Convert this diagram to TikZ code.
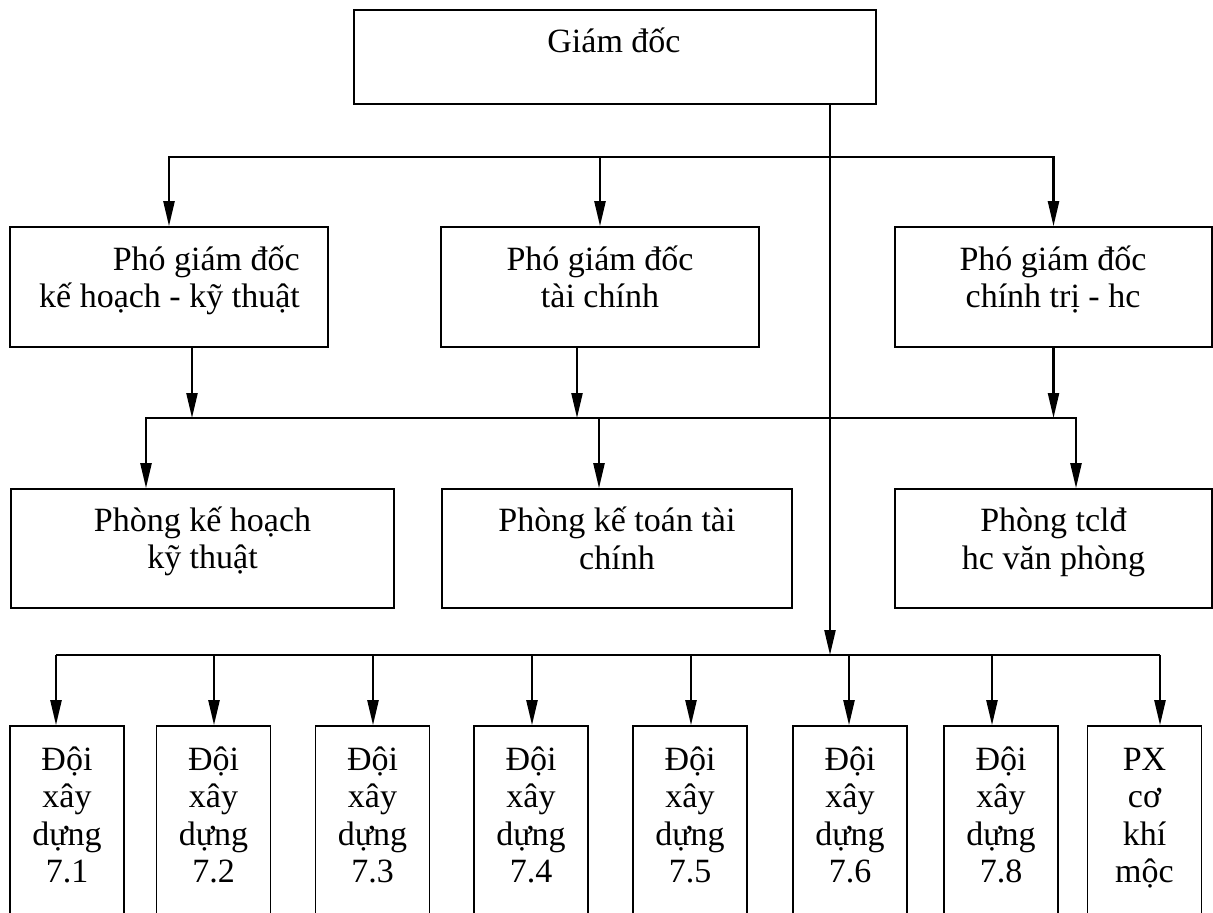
\documentclass[tikz,border=0pt]{standalone}
\usepackage{fontspec}
\setmainfont{Liberation Serif}
\usetikzlibrary{arrows.meta}
\begin{document}
\begin{tikzpicture}[x=1pt,y=-1pt,
  box/.style={draw,line width=1.6pt,rectangle,inner sep=0pt},
  wbox/.style={box,minimum width=318pt,minimum height=120pt},
  tbox/.style={box,minimum width=114pt,minimum height=234pt},
  % multi-line labels are placed by the baseline of their last line
  lbl/.style={font=\fontsize{34}{37.5}\selectfont,align=center,anchor=base,inner sep=0pt},
  conn/.style={line width=2.3pt},
  arr/.style={conn,-{Triangle[length=25pt,width=11pt]}},
]
\useasboundingbox (0,0) rectangle (1213,913);
\clip (0,0) rectangle (1213,913);

% director
\node[box,minimum width=522pt,minimum height=94pt] (gd) at (615,57) {};
\node[lbl] (gdt) at (614,52) {Giám đốc};

% deputy directors
\node[wbox] (pkh) at (169,287) {};
\node[wbox] (ptc) at (600,287) {};
\node[wbox,minimum width=317pt] (pct) at (1053.5,287) {};
\node[lbl,align=right] (pkht) at (169.5,307.5) {Phó giám đốc\\kế hoạch - kỹ thuật};
\node[lbl] (ptct) at (600,307.5) {Phó giám đốc\\tài chính};
\node[lbl] (pctt) at (1053,307.5) {Phó giám đốc\\chính trị - hc};

% departments
\node[box,minimum width=383pt,minimum height=119pt] (rkh) at (202.5,548.5) {};
\node[box,minimum width=350pt,minimum height=119pt] (rkt) at (617,548.5) {};
\node[box,minimum width=317pt,minimum height=119pt] (rtc) at (1053.5,548.5) {};
\node[lbl] (rkht) at (202.5,568.5) {Phòng kế hoạch\\kỹ thuật};
\node[lbl] (rktt) at (617,569) {Phòng kế toán tài\\chính};
\node[lbl] (rtct) at (1053.5,569) {Phòng tclđ\\hc văn phòng};

% construction teams and workshop
\foreach \n/\x/\t in {d1/67/{Đội\\xây\\dựng\\7.1},
                      d2/213.5/{Đội\\xây\\dựng\\7.2},
                      d3/372.5/{Đội\\xây\\dựng\\7.3},
                      d4/531/{Đội\\xây\\dựng\\7.4},
                      d5/690/{Đội\\xây\\dựng\\7.5},
                      d6/850/{Đội\\xây\\dựng\\7.6},
                      d7/1001/{Đội\\xây\\dựng\\7.8},
                      d8/1144.5/{PX\\cơ\\khí\\mộc}} {
  \node[tbox] (\n) at (\x,843) {};
  \node[lbl] (\n t) at (\x,882.5) {\t};
}

% bus levels
\coordinate (busA) at (0,157);
\coordinate (busB) at (0,418);
\coordinate (busC) at (0,655);
\coordinate (trunkEnd) at (830,655);

% director trunk
\draw[arr] (gd.south -| trunkEnd) -- (trunkEnd);

% director to deputies
\draw[arr] (ptc.north |- busA) -| (pkh.north);
\draw[arr] (ptc.north |- busA) -| (pct.north);
\draw[arr] (ptc.north |- busA) -- (ptc.north);

% deputies to department bus
\draw[arr] ([xshift=23pt]pkh.south) -- ([xshift=23pt]pkh.south |- busB);
\draw[arr] ([xshift=-23pt]ptc.south) -- ([xshift=-23pt]ptc.south |- busB);
\draw[arr] (pct.south) -- (pct.south |- busB);

% department bus to departments
\draw[arr] ([xshift=-18pt]rkt.north |- busB) -| ([xshift=-56.5pt]rkh.north);
\draw[arr] ([xshift=-18pt]rkt.north |- busB) -| ([xshift=22.5pt]rtc.north);
\draw[arr] ([xshift=-18pt]rkt.north |- busB) -- ([xshift=-18pt]rkt.north);

% team bus
\draw[conn] ([xshift=-11pt]d1.north |- busC) -- ([xshift=15.5pt]d8.north |- busC);
\foreach \n/\s in {d1/-11,d2/0.5,d3/0.5,d4/1,d5/1,d6/-1,d7/-9,d8/15.5} {
  \draw[arr] ([xshift=\s pt]\n.north |- busC) -- ([xshift=\s pt]\n.north);
}
\end{tikzpicture}
\end{document}
